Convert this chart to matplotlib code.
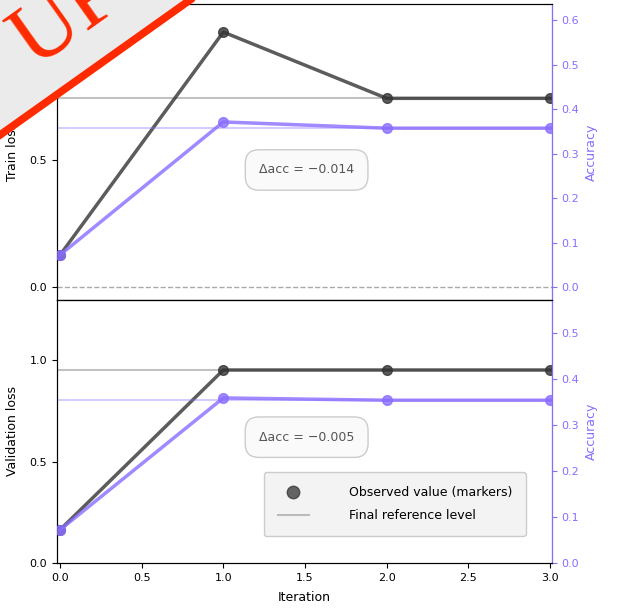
import numpy as np
import matplotlib
matplotlib.use('Agg')
import matplotlib.pyplot as plt
from matplotlib.patches import Polygon
from matplotlib.lines import Line2D

# 数据
steps = [0, 1, 2, 3]
loss_top = [0.125, 1.0, 0.74, 0.74]
acc_top = [0.072, 0.371, 0.357, 0.357]
loss_bot = [0.163, 0.951, 0.951, 0.951]
acc_bot = [0.072, 0.359, 0.354, 0.354]

black = '#333333'
purple = '#8a6cff'
W, H = 621, 608

fig = plt.figure(figsize=(6.21, 6.08), dpi=100)


def px_box(left, top, right, bottom):
    return [left / W, 1 - bottom / H, (right - left) / W, (bottom - top) / H]


ax1 = fig.add_axes(px_box(57, 4, 552, 300))
ax2 = fig.add_axes(px_box(57, 300, 552, 563), sharex=ax1)

panels = [
    (ax1, loss_top, acc_top, (-0.051, 1.110), (-0.029, 0.636), 'Train loss', 0.459, '\u0394acc = \u22120.014'),
    (ax2, loss_bot, acc_bot, (0.0, 1.296), (0.0, 0.572), 'Validation loss', 0.62, '\u0394acc = \u22120.005'),
]

for ax, loss, acc, ylim_l, ylim_r, ylab, ty, txt in panels:
    axr = ax.twinx()
    # 最终值参考线
    ax.axhline(loss[-1], color='#999999', lw=1.5, alpha=0.6, zorder=1)
    axr.axhline(acc[-1], color=purple, lw=1.5, alpha=0.35, zorder=1)
    ax.plot(steps, loss, color=black, lw=2.5, marker='o', ms=7, alpha=0.8, zorder=3)
    axr.plot(steps, acc, color=purple, lw=2.5, marker='o', ms=7, alpha=0.8, zorder=3)
    ax.set_ylim(*ylim_l)
    axr.set_ylim(*ylim_r)
    ax.set_yticks([0, 0.5, 1.0])
    axr.set_yticks(np.arange(0, ylim_r[1], 0.1))
    axr.yaxis.set_major_formatter(plt.FormatStrFormatter('%.1f'))
    ax.set_ylabel(ylab, fontsize=9, labelpad=8)
    axr.set_ylabel('Accuracy', fontsize=9, color=purple)
    axr.tick_params(axis='y', colors=purple, labelsize=8)
    axr.spines['right'].set_color(purple)
    ax.tick_params(labelsize=8)
    ax.text(1.51, ty, txt, ha='center', va='center', fontsize=9, color='#555555',
            bbox=dict(boxstyle='round,pad=1.1', fc='#fafafa', ec='#cccccc'))

ax1.axhline(0, color='#aaaaaa', lw=1, ls='--', zorder=0)
ax1.set_xlim(-0.018, 3.012)
ax1.tick_params(axis='x', labelbottom=False)
ax2.set_xticks([0, 0.5, 1, 1.5, 2, 2.5, 3])
ax2.set_xlabel('Iteration', fontsize=9, labelpad=6)

handles = [
    Line2D([], [], color=black, marker='o', ls='none', ms=9, alpha=0.75),
    Line2D([], [], color='#bbbbbb', lw=1.5),
]
ax2.legend(handles, ['Observed value (markers)', 'Final reference level'],
           loc='lower right', bbox_to_anchor=(0.96, 0.08), fontsize=9,
           facecolor='#f3f3f3', edgecolor='#cccccc', framealpha=1,
           handlelength=2.5, handletextpad=3.2, borderpad=1.1, labelspacing=0.8)

# 左上角的斜角标
def fp(x, y):
    return (x / W, 1 - y / H)

tri = Polygon([fp(0, 0), fp(192, 0), fp(0, 137)], closed=True, transform=fig.transFigure,
              fc='#ebebeb', ec='none', zorder=20)
fig.add_artist(tri)
fig.add_artist(Line2D([0, 190 / W], [1 - 135 / H, 1], transform=fig.transFigure,
                      color='#ff2a00', lw=5.5, zorder=21))
banner = fig.text(34 / W, 1 - 68 / H, 'UP', rotation=35.4, rotation_mode='anchor',
                  ha='left', va='baseline', fontsize=64, color='#ff2a00',
                  family='Liberation Serif', zorder=22)
banner.set_clip_path(tri)

fig.savefig('out.png', dpi=100)
